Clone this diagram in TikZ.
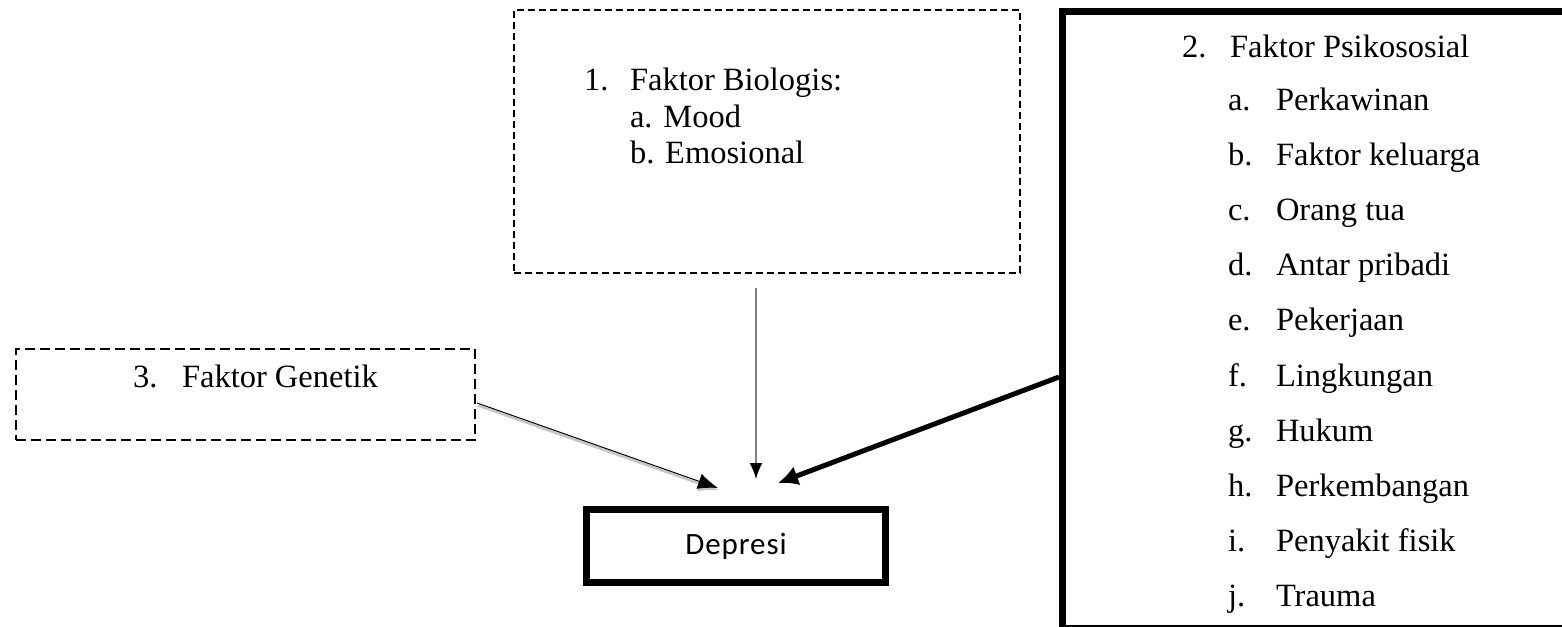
\documentclass[tikz,border=0pt]{standalone}
\usepackage{fontspec}
\setmainfont{Liberation Serif}
\newfontfamily\calibri{Carlito}[LetterSpace=3]
\usetikzlibrary{arrows.meta,positioning}

\begin{document}
\begin{tikzpicture}[x=1pt,y=-1pt,
  every node/.style={inner sep=0pt,outer sep=0pt},
  txt/.style={anchor=base west,font=\fontsize{32.5}{38}\selectfont},
  biobox/.style={draw,line width=1.2pt,dash pattern=on 7pt off 4pt},
  genbox/.style={draw,line width=2.8pt,dash pattern=on 10pt off 5pt},
  psibox/.style={draw,line width=7pt},
  depbox/.style={draw,line width=7pt,font=\calibri\fontsize{31}{36}\selectfont}]
  \useasboundingbox (0,0) rectangle (1562,626);

  % kotak faktor
  \node[biobox,minimum width=506pt,minimum height=263pt] (bio) at (767,141.5) {};
  \node[genbox,minimum width=459pt,minimum height=91pt] (gen) at (245.5,394.5) {};
  \node[psibox,minimum width=538pt,minimum height=616.5pt] (psi) at (1331,319.75) {};
  \node[depbox,minimum width=299pt,minimum height=73pt] (dep) at (736,546) {Depresi};

  % isi kotak
  \node[txt] (bionum) at (584,90) {1.};
  \node[txt] (biotitle) at (630,90) {Faktor Biologis:};
  \node[txt] (bioa) at (630,127) {a. Mood};
  \node[txt] (biob) at (630,163) {b. Emosional};

  \node[txt] (gennum) at (133,387) {3.};
  \node[txt] (gentitle) at (182,387) {Faktor Genetik};

  \node[txt] (psinum) at (1182,58) {2.};
  \node[txt] (psititle) at (1230,58) {Faktor Psikososial};
  \foreach \l/\t [count=\i from 0] in {a/Perkawinan,b/Faktor keluarga,c/Orang tua,
      d/Antar pribadi,e/Pekerjaan,f/Lingkungan,g/Hukum,h/Perkembangan,
      i/Penyakit fisik,j/Trauma}
  {
    \node[txt] (psil-\l) at (1228,110+55.2*\i) {\l.};
    \node[txt] (psit-\l) at (1276,110+55.2*\i) {\t};
  }

  % panah
  \coordinate (bioout) at (756,288);
  \coordinate (biotip) at (756,479);
  \coordinate (genout) at (477,403);
  \coordinate (gentip) at (718,488);
  \coordinate (psiout) at (1059,377);
  \coordinate (psitip) at (778,483);

  \draw[gray,line width=1.6pt,-{Latex[length=16pt,width=13pt,color=black]}] (bioout) -- (biotip);
  \draw[gray!45,line width=2.5pt,-{Latex[length=20pt,width=16pt]}] ([xshift=1pt,yshift=-2.5pt]genout) -- ([xshift=1pt,yshift=-2.5pt]gentip);
  \draw[line width=1pt,-{Latex[length=20pt,width=16pt]}] (genout) -- (gentip);
  \draw[line width=5pt,-{Latex[length=20pt,width=20pt]}] (psiout) -- (psitip);
\end{tikzpicture}
\end{document}
